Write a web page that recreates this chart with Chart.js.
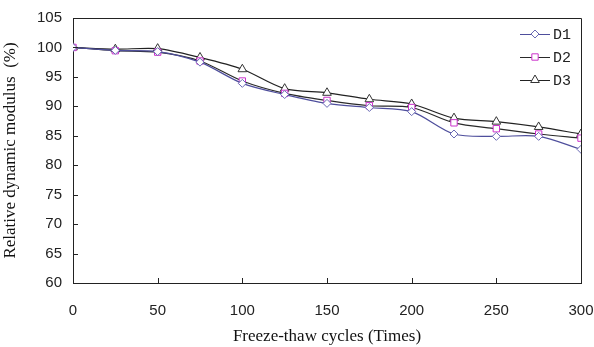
<!DOCTYPE html>
<html>
<head>
<meta charset="utf-8">
<script src="https://cdn.jsdelivr.net/npm/chart.js@4/dist/chart.umd.min.js"></script>
<style>
  html, body { margin: 0; padding: 0; background: #fff; }
  #wrap { width: 594px; height: 347px; position: relative; }
</style>
</head>
<body>
<div id="wrap"><canvas id="c"></canvas></div>
<script>
// freeze-thaw cycles
const cycles = [0, 25, 50, 75, 100, 125, 150, 175, 200, 225, 250, 275, 300];
const d1 = [100, 99.5, 99.3, 97.5, 93.9, 92.0, 90.5, 89.8, 89.1, 85.3, 84.9, 84.9, 82.7];
const d2 = [100, 99.45, 99.2, 97.7, 94.3, 92.2, 91.0, 90.1, 89.8, 87.2, 86.2, 85.3, 84.6];
const d3 = [100, 99.7, 99.8, 98.3, 96.3, 93.0, 92.3, 91.2, 90.4, 88.0, 87.4, 86.5, 85.3];
const yTicks = [60, 65, 70, 75, 80, 85, 90, 95, 100, 105];
const xTicks = [0, 50, 100, 150, 200, 250, 300];

const series = [
  { label: "D1", data: d1, line: "#4e4e9c", marker: "#6a6ab4", shape: "rectRot", r: 4 },
  { label: "D2", data: d2, line: "#2a2a2a", marker: "#cc33cc", shape: "rect", r: 4.5 },
  { label: "D3", data: d3, line: "#222222", marker: "#333333", shape: "triangle", r: 5 },
];

// frame, inward ticks and the legend box in the corner
const extras = {
  id: "extras",
  afterDraw(chart) {
    const ctx = chart.ctx;
    const a = chart.chartArea;
    const x = chart.scales.x, y = chart.scales.y;
    ctx.save();
    ctx.strokeStyle = "#222";
    ctx.lineWidth = 1;
    ctx.beginPath();
    ctx.moveTo(a.left, a.top + 0.5); ctx.lineTo(a.right + 0.5, a.top + 0.5);
    ctx.lineTo(a.right + 0.5, a.bottom);
    yTicks.forEach(v => {
      const py = Math.round(y.getPixelForValue(v)) + 0.5;
      ctx.moveTo(a.left, py); ctx.lineTo(a.left + 5, py);
    });
    xTicks.forEach(v => {
      const px = Math.round(x.getPixelForValue(v)) + 0.5;
      ctx.moveTo(px, a.bottom); ctx.lineTo(px, a.bottom - 5);
    });
    ctx.stroke();

    ctx.font = "15px 'Liberation Mono', monospace";
    ctx.textBaseline = "middle";
    series.forEach((s, i) => {
      const ly = 34 + i * 23;
      ctx.strokeStyle = s.line;
      ctx.beginPath(); ctx.moveTo(520, ly + 0.5); ctx.lineTo(550, ly + 0.5); ctx.stroke();
      ctx.fillStyle = "#fff";
      ctx.strokeStyle = s.marker;
      Chart.helpers.drawPoint(ctx, { pointStyle: s.shape, radius: s.r, borderWidth: 1, rotation: 0 }, 535, ly);
      ctx.fillStyle = "#222";
      ctx.fillText(s.label, 553, ly + 1);
    });
    ctx.restore();
  },
};

new Chart(document.getElementById("c"), {
  type: "line",
  data: {
    datasets: series.map(s => ({
      label: s.label,
      data: s.data.map((v, i) => ({ x: cycles[i], y: v })),
      borderColor: s.line,
      borderWidth: 1.2,
      tension: 0.3,
      pointStyle: s.shape,
      pointRadius: s.r,
      pointBorderColor: s.marker,
      pointBackgroundColor: "#fff",
      pointBorderWidth: 1,
    })),
  },
  options: {
    responsive: true,
    maintainAspectRatio: false,
    animation: false,
    layout: { padding: { top: 18, right: 13, left: 0, bottom: 0 } },
    plugins: {
      legend: { display: false },
      tooltip: { enabled: false },
    },
    scales: {
      x: {
        type: "linear",
        min: 0, max: 300,
        afterBuildTicks: s => { s.ticks = xTicks.map(v => ({ value: v })); },
        afterFit: s => { s.height = 64; s.paddingLeft = 0; s.paddingRight = 0; },
        grid: { display: false, drawTicks: false },
        border: { display: true, color: "#222", width: 1 },
        ticks: { color: "#222", padding: 19, maxRotation: 0, font: { family: "'Liberation Sans', sans-serif", size: 15 } },
        title: {
          display: true, text: "Freeze-thaw cycles (Times)", color: "#111",
          font: { family: "'Liberation Serif', serif", size: 17 },
          padding: { top: 0, bottom: 0 },
        },
      },
      y: {
        min: 60, max: 105,
        afterBuildTicks: s => { s.ticks = yTicks.map(v => ({ value: v })); },
        afterFit: s => { s.width = 73; s.paddingTop = 0; s.paddingBottom = 0; },
        grid: { display: false, drawTicks: false },
        border: { display: true, color: "#222", width: 1 },
        ticks: { color: "#222", padding: 11, font: { family: "'Liberation Sans', sans-serif", size: 15 } },
        title: {
          display: true, text: "Relative dynamic modulus  (%)", color: "#111",
          font: { family: "'Liberation Serif', serif", size: 17 },
          padding: { top: 0, bottom: 0 },
        },
      },
    },
  },
  plugins: [extras],
});
</script>
</body>
</html>
